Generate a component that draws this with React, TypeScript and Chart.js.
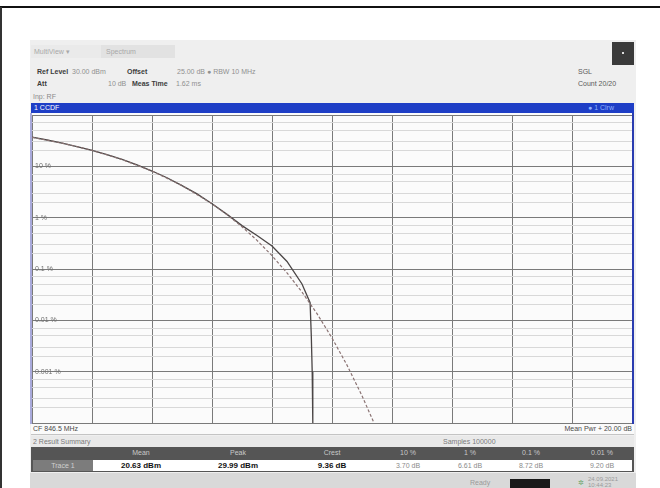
import React, { useEffect, useRef } from "react";
import { Chart, registerables } from "chart.js";

Chart.register(...registerables);

// ---- data (x: dB above mean power, y: probability) ----
const MEAS_DB = [0, 0.5, 1, 1.5, 2, 2.5, 3, 3.5, 4, 4.5, 5, 5.5, 6, 6.5, 7, 7.5, 8, 8.5, 9.0, 9.27, 9.31, 9.34, 9.36];
const MEAS_P = [0.37, 0.326, 0.284, 0.243, 0.205, 0.169, 0.136, 0.107, 0.081, 0.06, 0.042, 0.029, 0.0187, 0.0116, 0.007, 0.0045, 0.0028, 0.0014, 0.00051, 0.00022, 0.00005, 0.00001, 0.000001];
const GAUSS_DB = [0, 1, 2, 3, 4, 5, 6, 6.5, 7, 7.5, 8, 8.5, 9, 9.5, 10, 10.5, 11, 11.4];
const GAUSS_P = [0.368, 0.284, 0.205, 0.136, 0.0811, 0.0423, 0.0187, 0.0115, 0.00666, 0.00361, 0.00182, 0.00084, 0.000355, 0.000135, 0.0000454, 0.0000134, 0.0000034, 0.000001];

const X_MIN = 0;
const X_MAX = 20;
const X_STEP = 2;
const Y_DECADES = [0.000001, 0.00001, 0.0001, 0.001, 0.01, 0.1, 1];
const Y_MINOR_MULT = [2, 3, 5, 7];
const Y_LABELS: Record<string, string> = {
  "0.1": "10 %",
  "0.01": "1 %",
  "0.001": "0.1 %",
  "0.0001": "0.01 %",
  "0.00001": "0.001 %",
};

const HEADERS = ["Mean", "Peak", "Crest", "10 %", "1 %", "0.1 %", "0.01 %"];
const HEADER_X = [141, 238, 332, 408, 470, 531, 602];
const VALUES = ["20.63 dBm", "29.99 dBm", "9.36 dB", "3.70 dB", "6.61 dB", "8.72 dB", "9.20 dB"];

const FONT = "'Liberation Sans', Arial, sans-serif";

function isDecade(v: number) {
  const l = Math.log10(v);
  return Math.abs(l - Math.round(l)) < 1e-6;
}

function abs(left: number, top: number, extra: React.CSSProperties = {}): React.CSSProperties {
  return { position: "absolute", left, top, whiteSpace: "nowrap", ...extra };
}

function zeroPad(s: any) {
  s.paddingTop = 0;
  s.paddingBottom = 0;
  s.paddingLeft = 0;
  s.paddingRight = 0;
}

export default function App() {
  const ref = useRef<HTMLCanvasElement>(null);

  useEffect(() => {
    const yTicks: number[] = [];
    Y_DECADES.forEach((d, i) => {
      yTicks.push(d);
      if (i < Y_DECADES.length - 1) Y_MINOR_MULT.forEach((m) => yTicks.push(d * m));
    });

    const chart = new Chart(ref.current!, {
      type: "line",
      data: {
        datasets: [
          {
            label: "Gauss",
            data: GAUSS_DB.map((x, i) => ({ x, y: GAUSS_P[i] })),
            borderColor: "#8a7272",
            borderWidth: 1.2,
            borderDash: [3, 2],
            pointRadius: 0,
            fill: false,
          },
          {
            label: "Trace 1",
            data: MEAS_DB.map((x, i) => ({ x, y: MEAS_P[i] })),
            borderColor: "#4a4545",
            borderWidth: 1.3,
            pointRadius: 0,
            fill: false,
          },
        ],
      },
      options: {
        animation: false,
        responsive: false,
        maintainAspectRatio: false,
        layout: { padding: { left: 0, top: 0, right: 1, bottom: 1 } },
        plugins: { legend: { display: false }, tooltip: { enabled: false } },
        scales: {
          x: {
            type: "linear",
            min: X_MIN,
            max: X_MAX,
            ticks: { display: false, stepSize: X_STEP },
            grid: { color: "#7a7a7a", drawTicks: false, lineWidth: 1 },
            border: { display: false },
            afterFit: (s: any) => {
              s.height = 0;
              zeroPad(s);
            },
          },
          y: {
            type: "logarithmic",
            min: Y_DECADES[0],
            max: Y_DECADES[Y_DECADES.length - 1],
            afterBuildTicks: (s: any) => {
              s.ticks = yTicks.map((value) => ({ value }));
            },
            afterFit: (s: any) => {
              s.width = 0;
              zeroPad(s);
            },
            ticks: {
              mirror: true,
              padding: 3,
              autoSkip: false,
              color: "#707070",
              font: { size: 7, family: FONT },
              callback: (v: any) => {
                const key = String(Number(v));
                return Y_LABELS[key] ?? "";
              },
            },
            grid: {
              drawTicks: false,
              color: (ctx: any) => (ctx.tick && isDecade(ctx.tick.value) ? "#7a7a7a" : "#d8d8d8"),
              lineWidth: 1,
            },
            border: { display: false },
          },
        },
      },
    });
    return () => chart.destroy();
  }, []);

  const small: React.CSSProperties = { fontSize: 7, lineHeight: "8px" };

  return (
    <div
      style={{
        position: "fixed",
        left: 0,
        top: 0,
        width: 660,
        height: 488,
        background: "#ffffff",
        overflow: "hidden",
        fontFamily: FONT,
      }}
    >
      {/* figure frame */}
      <div style={abs(0, 6, { width: 660, height: 0, borderTop: "2px solid #111" })} />
      <div style={abs(0, 7, { width: 0, height: 481, borderLeft: "2px solid #333" })} />

      {/* instrument screen */}
      <div style={abs(30, 40, { width: 606, height: 448, background: "#efefef" })} />

      {/* tabs */}
      <div style={abs(31, 45, { width: 70, height: 13, background: "#eaeaea" })} />
      <div style={abs(101, 45, { width: 74, height: 13, background: "#e2e2e2" })} />
      <div style={abs(34, 48, { ...small, color: "#a8a8a8" })}>MultiView ▾</div>
      <div style={abs(106, 48, { ...small, color: "#a8a8a8" })}>Spectrum</div>

      {/* header rows */}
      <div style={abs(37, 68, { ...small, color: "#3c3c3c", fontWeight: "bold" })}>Ref Level</div>
      <div style={abs(72, 68, { ...small, color: "#909090" })}>30.00 dBm</div>
      <div style={abs(127, 68, { ...small, color: "#3c3c3c", fontWeight: "bold" })}>Offset</div>
      <div style={abs(177, 68, { ...small, color: "#909090" })}>25.00 dB ● RBW 10 MHz</div>
      <div style={abs(37, 80, { ...small, color: "#3c3c3c", fontWeight: "bold" })}>Att</div>
      <div style={abs(108, 80, { ...small, color: "#909090" })}>10 dB</div>
      <div style={abs(132, 80, { ...small, color: "#3c3c3c", fontWeight: "bold" })}>Meas Time</div>
      <div style={abs(176, 80, { ...small, color: "#909090" })}>1.62 ms</div>
      <div style={abs(33, 93, { ...small, color: "#8a8a8a" })}>Inp: RF</div>

      <div style={abs(612, 42, { width: 22, height: 23, background: "#3a3a3a" })} />
      <div style={abs(622, 52, { width: 2, height: 2, background: "#ddd" })} />
      <div style={abs(578, 68, { ...small, color: "#5a5a5a" })}>SGL</div>
      <div style={abs(578, 80, { ...small, color: "#5a5a5a" })}>Count 20/20</div>

      {/* blue title bar */}
      <div style={abs(31, 103, { width: 603, height: 10, background: "#1e3ec6" })} />
      <div style={abs(34, 104, { ...small, color: "#ffffff" })}>1 CCDF</div>
      <div style={abs(588, 104, { ...small, color: "#8fb1ff" })}>● 1 Clrw</div>

      {/* plot */}
      <div style={abs(32, 113, { width: 601, height: 311, background: "#fbfbfb" })} />
      <canvas ref={ref} width={601} height={309} style={abs(32, 115, { display: "block" })} />
      <div style={abs(30, 113, { width: 2, height: 311, background: "#a9aadb" })} />
      <div style={abs(632, 113, { width: 2, height: 311, background: "#2a3cb0" })} />

      {/* footer strip */}
      <div style={abs(31, 424, { width: 603, height: 10, background: "#fafafa", borderBottom: "1px solid #c4c4c4" })} />
      <div style={abs(33, 425, { ...small, color: "#4a4a4a" })}>CF 846.5 MHz</div>
      <div style={abs(540, 425, { ...small, color: "#4a4a4a", width: 92, textAlign: "right" })}>Mean Pwr + 20.00 dB</div>

      {/* result summary */}
      <div style={abs(31, 436, { width: 603, height: 11, background: "#e9e9e9" })} />
      <div style={abs(33, 438, { ...small, color: "#7a7a7a" })}>2 Result Summary</div>
      <div style={abs(443, 438, { ...small, color: "#7a7a7a" })}>Samples 100000</div>

      <div style={abs(31, 447, { width: 603, height: 12, background: "#555555" })} />
      {HEADERS.map((h, i) => (
        <div key={h} style={abs(HEADER_X[i] - 30, 449, { ...small, width: 60, textAlign: "center", color: "#c8c8c8" })}>
          {h}
        </div>
      ))}
      <div style={abs(31, 459, { width: 603, height: 13, background: "#555555" })} />
      <div style={abs(33, 460, { width: 60, height: 11, background: "#7c7c7c" })} />
      <div style={abs(33, 462, { ...small, width: 60, textAlign: "center", color: "#d0d0d0" })}>Trace 1</div>
      <div style={abs(93, 460, { width: 539, height: 11, background: "#ffffff" })} />
      {VALUES.map((v, i) => (
        <div
          key={v + i}
          style={abs(HEADER_X[i] - 35, 461, {
            fontSize: i < 3 ? 8 : 7,
            lineHeight: "9px",
            width: 70,
            textAlign: "center",
            color: i < 3 ? "#111" : "#8a8a8a",
            fontWeight: i < 3 ? "bold" : "normal",
          })}
        >
          {v}
        </div>
      ))}

      {/* status bar */}
      <div style={abs(30, 473, { width: 606, height: 15, background: "#d9d9d9" })} />
      <div style={abs(470, 479, { ...small, color: "#9a9a9a" })}>Ready</div>
      <div style={abs(510, 479, { width: 40, height: 9, background: "#1a1a1a" })} />
      <div style={abs(578, 479, { ...small, color: "#6aa56a" })}>✲</div>
      <div style={abs(588, 476, { fontSize: 6, lineHeight: "6px", color: "#9a9a9a" })}>
        24.09.2021
        <br />
        10:44:23
      </div>
    </div>
  );
}
